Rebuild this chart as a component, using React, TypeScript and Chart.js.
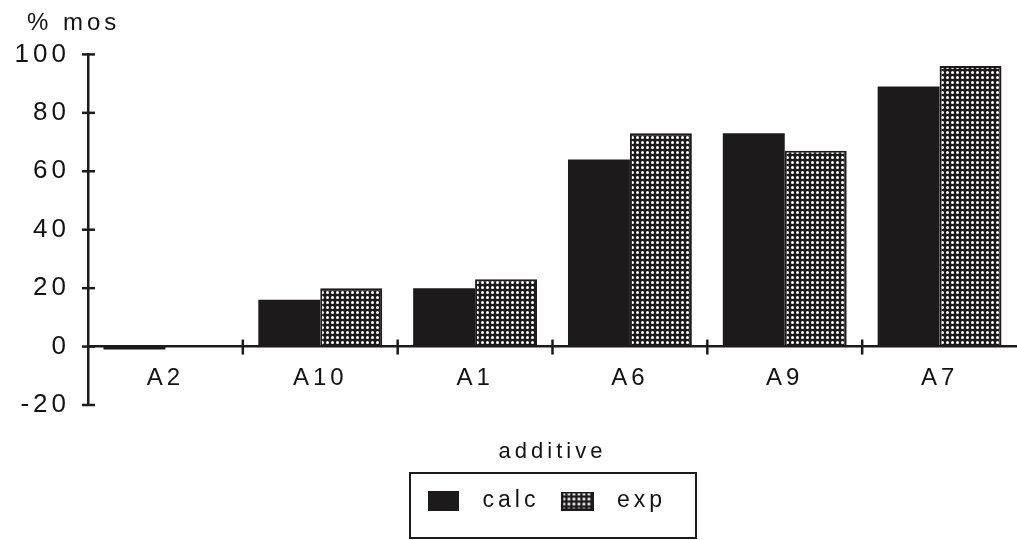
import React, { useEffect, useRef } from 'react';
import { Chart, registerables } from 'chart.js';

Chart.register(...registerables);

const categories = ['A2', 'A10', 'A1', 'A6', 'A9', 'A7'];
const calcValues = [-1, 16, 20, 64, 73, 89];
const expValues = [0, 20, 23, 73, 67, 96];
const seriesNames = ['calc', 'exp'];
const yMin = -20;
const yMax = 100;
const yStep = 20;
const yAxisTitle = '% mos';
const xAxisTitle = 'additive';

const FONT = "'Liberation Sans', Arial, Helvetica, sans-serif";
const INK = '#1c1a1a';
const TEXT = '#141212';
const SPACING = '4px';

function makeDotTile() {
  const tile = document.createElement('canvas');
  tile.width = 5;
  tile.height = 5;
  const t = tile.getContext('2d') as CanvasRenderingContext2D;
  t.fillStyle = INK;
  t.fillRect(0, 0, 5, 5);
  t.fillStyle = '#ffffff';
  t.beginPath();
  t.arc(2.5, 2.5, 1.5, 0, Math.PI * 2);
  t.fill();
  return tile;
}

function makeSwatch(w: number, h: number, fill: 'solid' | 'dots') {
  const c = document.createElement('canvas');
  c.width = w;
  c.height = h;
  const g = c.getContext('2d') as CanvasRenderingContext2D;
  if (fill === 'solid') {
    g.fillStyle = INK;
    g.fillRect(0, 0, w, h);
  } else {
    g.fillStyle = g.createPattern(makeDotTile(), 'repeat') as CanvasPattern;
    g.fillRect(0, 0, w, h);
    g.strokeStyle = INK;
    g.lineWidth = 2;
    g.strokeRect(1, 1, w - 2, h - 2);
  }
  return c;
}

const axisMarks = {
  id: 'axisMarks',
  beforeLayout(chart: any) {
    chart.ctx.letterSpacing = SPACING;
  },
  afterLayout(chart: any) {
    // y labels may extend to the left canvas edge
    if (chart.scales.y) chart.scales.y.left = 0;
    if (chart.titleBlock) chart.titleBlock.left = 27;
    if (chart.legend) {
      chart.legend.left -= 11.5;
      chart.legend.right -= 11.5;
    }
  },
  beforeDraw(chart: any) {
    chart.ctx.letterSpacing = SPACING;
  },
  afterDraw(chart: any) {
    const { ctx, chartArea } = chart;
    const x = chart.scales.x;
    const y = chart.scales.y;
    ctx.save();
    ctx.letterSpacing = '0px';
    ctx.strokeStyle = INK;
    ctx.lineWidth = 2.5;
    const line = (x1: number, y1: number, x2: number, y2: number) => {
      ctx.beginPath();
      ctx.moveTo(x1, y1);
      ctx.lineTo(x2, y2);
      ctx.stroke();
    };
    const ax = chartArea.left;
    y.ticks.forEach((_t: any, i: number) => {
      const py = y.getPixelForTick(i);
      line(ax - 6, py, ax + 7, py);
    });
    const zy = y.getPixelForValue(0);
    for (let i = 1; i < categories.length; i++) {
      const px = (x.getPixelForValue(i - 1) + x.getPixelForValue(i)) / 2;
      line(px, zy - 7, px, zy + 8);
    }
    // legend frame
    const hb = chart.legend && chart.legend.legendHitBoxes;
    if (hb && hb.length) {
      const first = hb[0];
      const last = hb[hb.length - 1];
      const cy = first.top + first.height / 2;
      const left = first.left - 6;
      const right = last.left + last.width + 30;
      const top = cy - 28;
      const bottom = cy + 37;
      ctx.lineWidth = 2;
      ctx.strokeRect(left, top, right - left, bottom - top);
    }
    ctx.restore();
  },
};

export default function App() {
  const canvasRef = useRef<HTMLCanvasElement | null>(null);

  useEffect(() => {
    const canvas = canvasRef.current;
    if (!canvas) return;
    const ctx = canvas.getContext('2d') as CanvasRenderingContext2D;
    const pattern = ctx.createPattern(makeDotTile(), 'repeat') as CanvasPattern;
    const swatches = [makeSwatch(31, 20, 'solid'), makeSwatch(33, 19, 'dots')];

    const chart = new Chart(canvas, {
      type: 'bar',
      data: {
        labels: categories,
        datasets: [
          {
            label: seriesNames[0],
            data: calcValues,
            backgroundColor: INK,
            borderColor: INK,
            borderWidth: 0,
          },
          {
            label: seriesNames[1],
            data: expValues,
            backgroundColor: pattern,
            borderColor: INK,
            borderWidth: 2,
          },
        ],
      },
      plugins: [axisMarks],
      options: {
        responsive: false,
        animation: false,
        devicePixelRatio: 1,
        datasets: {
          bar: {
            categoryPercentage: 0.8,
            barPercentage: 1,
          },
        },
        layout: {
          padding: { left: 0, right: 0, top: 0, bottom: 17.5 },
        },
        scales: {
          x: {
            type: 'category',
            position: { y: 0 },
            offset: true,
            afterFit: (scale: any) => {
              scale.height = 0;
            },
            grid: { display: true, drawOnChartArea: false, drawTicks: false, color: 'rgba(0,0,0,0)' },
            border: { display: true, color: INK, width: 2.5 },
            ticks: {
              color: TEXT,
              padding: 17,
              maxRotation: 0,
              font: { family: FONT, size: 24 },
            },
          },
          y: {
            type: 'linear',
            position: 'left',
            min: yMin,
            max: yMax,
            afterFit: (scale: any) => {
              scale.width = 88;
            },
            grid: { display: true, drawOnChartArea: false, drawTicks: false, color: 'rgba(0,0,0,0)' },
            border: { display: true, color: INK, width: 2.5 },
            ticks: {
              stepSize: yStep,
              color: TEXT,
              padding: 18,
              font: { family: FONT, size: 26 },
            },
          },
        },
        plugins: {
          tooltip: { enabled: false },
          title: {
            display: true,
            text: yAxisTitle,
            align: 'start',
            position: 'top',
            color: TEXT,
            font: { family: FONT, size: 24, weight: 'normal' },
            padding: { top: 9, bottom: 16.6 },
          },
          subtitle: {
            display: true,
            text: xAxisTitle,
            position: 'bottom',
            align: 'center',
            fullSize: false,
            weight: 500,
            color: TEXT,
            font: { family: FONT, size: 22, weight: 'normal' },
            padding: { top: 33.8, bottom: 13.3 },
          },
          legend: {
            display: true,
            position: 'bottom',
            fullSize: false,
            weight: 1000,
            labels: {
              color: TEXT,
              usePointStyle: true,
              pointStyleWidth: 55,
              boxHeight: 20,
              padding: 11,
              font: { family: FONT, size: 23 },
              generateLabels: (ch: any) => {
                const items = (Chart.defaults as any).plugins.legend.labels.generateLabels(ch);
                items.forEach((it: any, i: number) => {
                  it.pointStyle = swatches[i];
                });
                return items;
              },
            },
          },
        },
      } as any,
    });

    return () => {
      chart.destroy();
    };
  }, []);

  return (
    <div style={{ position: 'absolute', left: 0, top: 0, width: 1017, height: 540, background: '#ffffff' }}>
      <canvas ref={canvasRef} width={1017} height={540} style={{ display: 'block' }} />
    </div>
  );
}
